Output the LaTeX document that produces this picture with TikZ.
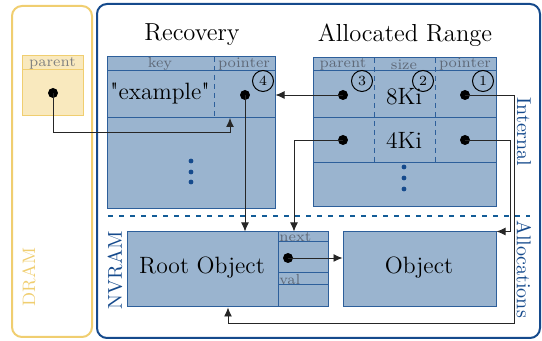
\documentclass[tikz,border=0pt]{standalone}
\usepackage{fontspec}
\usetikzlibrary{arrows.meta}

\definecolor{nvblue}{RGB}{21,74,140}
\definecolor{cellfill}{RGB}{154,180,207}
\definecolor{celledge}{RGB}{45,95,155}
\definecolor{dramyel}{RGB}{240,206,112}
\definecolor{dramfill}{RGB}{249,233,190}
\definecolor{hdrgray}{RGB}{95,105,120}

\begin{document}
\begin{tikzpicture}[x=0.5pt,y=-0.5pt,
  cell/.style={draw=celledge,fill=cellfill,line width=0.5pt,inner sep=0pt},
  dot/.style={circle,fill=black,inner sep=0pt,minimum size=5pt},
  num/.style={circle,draw,line width=0.5pt,inner sep=0pt,minimum size=10.5pt,font=\fontsize{7}{7}\selectfont},
  hdr/.style={text=hdrgray,font=\fontsize{7.3}{7}\selectfont,inner sep=0pt},
  big/.style={font=\fontsize{11.8}{12}\selectfont,inner sep=0pt},
  title/.style={font=\fontsize{12.3}{13}\selectfont},
  side/.style={font=\fontsize{10}{10}\selectfont,text=nvblue},
  ptr/.style={-{Latex[length=4.5pt,width=4pt]},line width=0.45pt,black!85},
  vdot/.style={fill=nvblue}]
\useasboundingbox (0,0) rectangle (542,341);

% DRAM side
\draw[dramyel,line width=1pt,rounded corners=5pt] (12,6) rectangle (92,337);
\node[rotate=90,text=dramyel,font=\fontsize{9}{9}\selectfont] (dram) at (29,277) {DRAM};
\node[draw=dramyel,fill=dramfill,line width=0.5pt,minimum width=30.5pt,minimum height=30pt,inner sep=0pt] (dbox) at (52.5,86) {};
\draw[dramyel,line width=0.5pt] (22,70) -- (83,70);
\node[hdr,text=black!50] (dpar) at (52.5,63) {parent};
\node[dot] (ddot) at (53,93) {};

% NVRAM side
\draw[nvblue,line width=1pt,rounded corners=5pt] (97,4) rectangle (540,338);
\draw[nvblue!90!cyan,line width=0.6pt,dash pattern=on 2.5pt off 3pt] (108,216) -- (530,216);
\node[side,rotate=90] (nvram) at (115,270) {NVRAM};
\node[side,rotate=-90] (internal) at (524,132) {Internal};
\node[side,rotate=-90] (alloc) at (524,269) {Allocations};

% Recovery table
\node[title] (rectitle) at (192,35) {Recovery};
\node[cell,minimum width=84pt,minimum height=76pt] (rec) at (191,133) {};
\draw[celledge,line width=0.5pt] (107,71) -- (275,71) (107,118) -- (275,118);
\draw[celledge,line width=0.5pt,dash pattern=on 2.5pt off 2pt] (214,57) -- (214,118);
\node[hdr] (hkey) at (160,64) {key};
\node[hdr] (hptr) at (244,64) {pointer};
\node[big] (key) at (160,93) {\textquotedbl example\textquotedbl};
\node[dot] (rptr) at (245,95) {};
\node[num] (n4) at (263,81) {4};
\coordinate (recrow) at (230,118);
\foreach \y in {161,172,182} \fill[vdot] (191,\y) circle (1.2pt);

% Allocated range table
\node[title] (artitle) at (405,35) {Allocated Range};
\node[cell,minimum width=91.5pt,minimum height=74.5pt] (ar) at (404.5,132.5) {};
\draw[celledge,line width=0.5pt] (313,71) -- (496,71) (313,118) -- (496,118) (313,163) -- (496,163);
\draw[celledge,line width=0.5pt,dash pattern=on 2.5pt off 2pt] (374,58) -- (374,163) (435,58) -- (435,163);
\node[hdr] (hpar) at (343,64) {parent};
\node[hdr] (hsize) at (404,65) {size};
\node[hdr] (hptr2) at (465,64) {pointer};
\node[dot] (apar1) at (343,95) {};
\node[big] (sz1) at (404,97) {8Ki};
\node[dot] (aptr1) at (465,95) {};
\node[dot] (apar2) at (343,140) {};
\node[big] (sz2) at (404,140) {4Ki};
\node[dot] (aptr2) at (465,140) {};
\node[num] (n3) at (362,81) {3};
\node[num] (n2) at (423,81) {2};
\node[num] (n1) at (483,81) {1};
\foreach \y in {167,178,189} \fill[vdot] (404,\y) circle (1.2pt);

% objects
\node[cell,minimum width=75.5pt,minimum height=37.5pt] (root) at (202.5,269.5) {};
\node[big] (rootlbl) at (202,268) {Root Object};
\node[cell,minimum width=25pt,minimum height=37.5pt] (rside) at (303,269.5) {};
\draw[celledge,line width=0.5pt] (278,242) -- (328,242) (278,273) -- (328,273) (278,285) -- (328,285);
\node[hdr,anchor=west] (hnext) at (279,237) {next};
\node[hdr,anchor=west] (hval) at (279,280) {val};
\node[dot] (rnext) at (288,258) {};
\node[cell,minimum width=76.5pt,minimum height=37.5pt] (obj) at (419.5,269.5) {};
\node[big] (objlbl) at (419,268) {Object};

% pointers
\draw[ptr] (ddot.center) |- (230,132) -- (recrow);
\draw[ptr] (rptr.center) -- (rptr |- root.north);
\draw[ptr] (apar1.center) -- (apar1 -| rec.east);
\draw[ptr] (apar2.center) -| ([xshift=-4.5pt]rside.north);
\draw[ptr] (aptr1.center) -| (514,323) -| ([xshift=12.75pt]root.south);
\draw[ptr] (aptr2.center) -| ([xshift=7pt]obj.north east) -- (obj.north east);
\draw[ptr] (rnext.center) -- (rnext -| obj.west);

\end{tikzpicture}
\end{document}
